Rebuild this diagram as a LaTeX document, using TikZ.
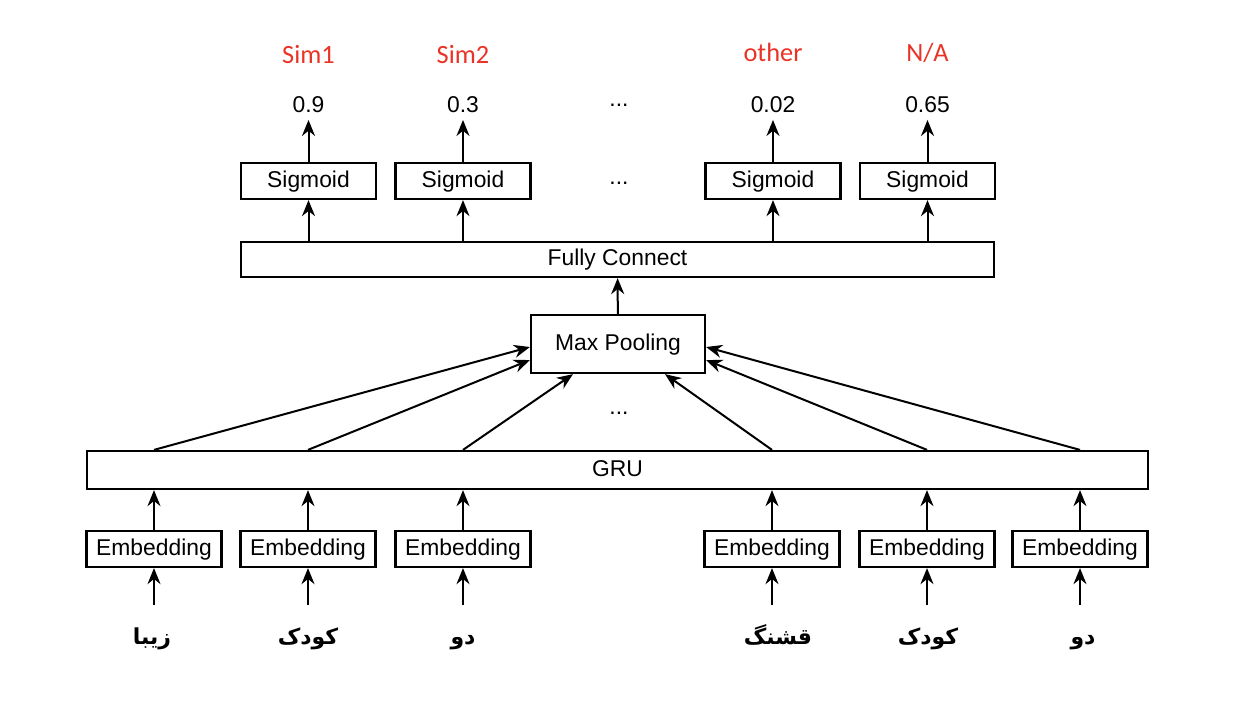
\documentclass[tikz,border=0pt]{standalone}
\usepackage{fontspec}
\setmainfont{Liberation Sans}
\newfontfamily\labelfont{Carlito}
\newfontfamily\persianfont[Script=Arabic]{DejaVu Sans}
\TeXXeTstate=1
\usetikzlibrary{arrows.meta,positioning}
\definecolor{simred}{RGB}{234,51,38}

\begin{document}
\begin{tikzpicture}[x=0.2mm,y=-0.2mm,>={Stealth[length=3.2mm,width=2.6mm]},line width=0.4mm,
  font=\fontsize{13}{15}\selectfont,
  box/.style={draw,line width=0.45mm,inner sep=0pt,minimum height=7.2mm,text height=.72em,text depth=0pt},
  word/.style={anchor=base,font=\persianfont\bfseries\fontsize{12.5}{15}\selectfont},
  simlabel/.style={text=simred,font=\labelfont\fontsize{15}{17}\selectfont}]
\useasboundingbox (0,0) rectangle (1245,706);
% input words and embeddings
\foreach \x/\wx/\w/\n in {154/152/زیبا/1,308/308/کودک/2,463/463/دو/3,772/778/قشنگ/4,927/928/کودک/5,1080/1083/دو/6}{
  \node[box,minimum width=27mm] (e\n) at (\x,549) {Embedding};
  \node[word] (w\n) at (\wx,644) {\beginR\w\endR};
  \coordinate (in\n) at (\x,605);
  \draw[->] (in\n) -- (e\n);}
\node[box,minimum width=212.2mm,minimum height=7.6mm] (gru) at (617.5,470) {GRU};
\foreach \n in {1,...,6}
  \draw[->] (e\n) -- (e\n |- gru.south);
% pooling
\node[box,minimum width=34.8mm,minimum height=11.6mm] (pool) at (618,344) {Max Pooling};
\draw[->] (e1 |- gru.north) -- ([yshift=-0.6mm]pool.west);
\draw[->] (e2 |- gru.north) -- ([yshift=-3.2mm]pool.west);
\draw[->] (e3 |- gru.north) -- ([xshift=-9mm]pool.south);
\draw[->] (e4 |- gru.north) -- ([xshift=9.4mm]pool.south);
\draw[->] (e5 |- gru.north) -- ([yshift=-3.2mm]pool.east);
\draw[->] (e6 |- gru.north) -- ([yshift=-0.6mm]pool.east);
\node (pdots) at (619,413) {...};
\node[box,minimum width=150.6mm,minimum height=7mm] (fc) at (617.5,259.5) {Fully Connect};
\draw[->] (pool) -- (fc);
% outputs
\foreach \x/\v/\l/\ly/\n in {308.5/0.9/Sim1/55/1,463/0.3/Sim2/55/2,773/0.02/other/52/3,927.5/0.65/N\slash A/53/4}{
  \node[box,minimum width=27mm] (s\n) at (\x,181) {Sigmoid};
  \node (v\n) at (\x,105) {\v};
  \node[simlabel] (l\n) at (\x,\ly) {\l};
  \draw[->] (s\n |- fc.north) -- (s\n);
  \draw[->] (s\n) -- (v\n);}
\node (sdots) at (619,183) {...};
\node (vdots) at (619,105) {...};
\end{tikzpicture}
\end{document}
